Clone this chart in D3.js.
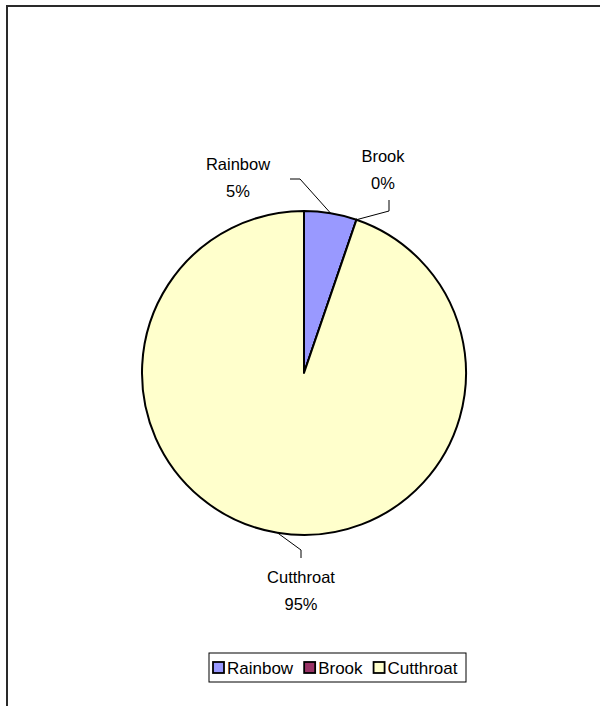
<!DOCTYPE html>
<html>
<head>
<meta charset="utf-8">
<script src="https://cdn.jsdelivr.net/npm/d3@7/dist/d3.min.js"></script>
<style>
  html, body { margin: 0; padding: 0; background: #fff; }
  svg { display: block; font-family: Arial, "Liberation Sans", sans-serif; }
</style>
</head>
<body>
<svg id="chart" width="600" height="706"></svg>
<script>
// Trout catch by species
const species = ["Rainbow", "Brook", "Cutthroat"];
const counts = [21, 0, 379];
const colors = ["#9999FF", "#993366", "#FFFFCC"];

const W = 600, H = 706;
const cx = 304, cy = 373, R = 162;

const svg = d3.select("#chart");

// chart area frame (top and left edges visible)
svg.append("path")
  .attr("d", `M7,${H} L7,6 L${W},6`)
  .attr("fill", "none")
  .attr("stroke", "#2a2a2a")
  .attr("stroke-width", 2);

const total = d3.sum(counts);
const data = species.map((s, i) => ({ name: s, value: counts[i], color: colors[i] }));

const pie = d3.pie().value(d => d.value).sort(null);
const arcs = pie(data);
const arc = d3.arc().innerRadius(0).outerRadius(R);

const g = svg.append("g").attr("transform", `translate(${cx},${cy})`);

g.selectAll("path.slice")
  .data(arcs)
  .join("path")
  .attr("class", "slice")
  .attr("d", arc)
  .attr("fill", d => d.data.color)
  .attr("stroke", "#000")
  .attr("stroke-width", 2)
  .attr("stroke-linejoin", "round");

// data labels with leader lines; label placement relative to the pie centre
const labelPos = {
  Rainbow:   { x: -66, y: -203, elbow: [-4, -194], start: [-14, -194] },
  Brook:     { x: 79,  y: -211, elbow: [85, -162], start: [85, -173] },
  Cutthroat: { x: -3,  y: 210,  elbow: [-3, 177],  start: [-3, 185] }
};

arcs.forEach(d => {
  const p = labelPos[d.data.name];
  const mid = (d.startAngle + d.endAngle) / 2;
  const ax = Math.sin(mid) * R, ay = -Math.cos(mid) * R;
  g.append("path")
    .attr("d", d3.line()([[p.start[0], p.start[1]], p.elbow, [ax, ay]]))
    .attr("fill", "none")
    .attr("stroke", "#000")
    .attr("stroke-width", 1);
  const pct = Math.round(d.data.value / total * 100) + "%";
  const t = g.append("text")
    .attr("text-anchor", "middle")
    .attr("font-size", 16.5)
    .attr("fill", "#000");
  t.append("tspan").attr("x", p.x).attr("y", p.y).text(d.data.name);
  t.append("tspan").attr("x", p.x).attr("y", p.y + 27).text(pct);
});

// legend
const lg = svg.append("g");
const lx = 209, ly = 653, lw = 257, lh = 29;
lg.append("rect")
  .attr("x", lx).attr("y", ly).attr("width", lw).attr("height", lh)
  .attr("fill", "#fff").attr("stroke", "#000").attr("stroke-width", 1);

let xpos = lx + 4;
data.forEach(d => {
  lg.append("rect")
    .attr("x", xpos).attr("y", ly + 9).attr("width", 11).attr("height", 11)
    .attr("fill", d.color).attr("stroke", "#000").attr("stroke-width", 1.8);
  const tx = lg.append("text")
    .attr("x", xpos + 14).attr("y", ly + 21)
    .attr("font-size", 17)
    .text(d.name);
  xpos += 14 + tx.node().getComputedTextLength() + 11;
});
</script>
</body>
</html>
